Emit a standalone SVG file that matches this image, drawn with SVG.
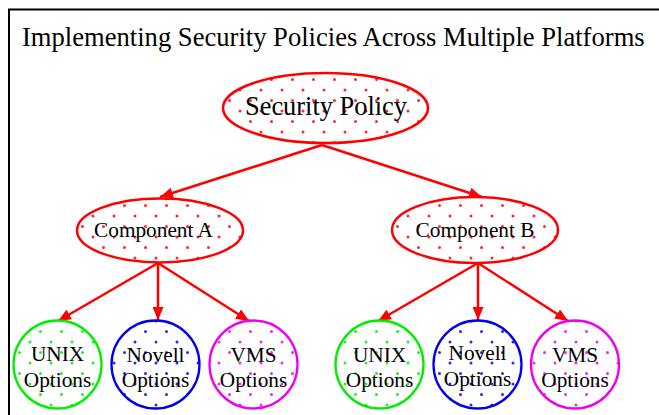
<svg xmlns="http://www.w3.org/2000/svg" width="659" height="415" viewBox="0 0 659 415" font-family="Liberation Serif, Times New Roman, serif">
<style>
text{font-family:'Liberation Serif','Times New Roman',serif;fill:#000;text-anchor:middle}
.title{font-size:26.6px;text-anchor:start}
.big{font-size:26.4px}
.lbl{font-size:21.3px}
.edge{stroke:#ff0000;stroke-width:2.5;fill:none;marker-end:url(#ah)}
.red{stroke:#ff0000;stroke-width:2.5;fill:url(#pr)}
.green{stroke:#00ee00;stroke-width:2.3;fill:url(#pg)}
.blue{stroke:#0000ee;stroke-width:2.3;fill:url(#pb)}
.mag{stroke:#ee00ee;stroke-width:2.3;fill:url(#pm)}
</style>
<defs>
<marker id="ah" markerUnits="userSpaceOnUse" markerWidth="13" markerHeight="11" refX="13" refY="5.5" orient="auto">
<path d="M0,0 L13,5.5 L0,11 z" fill="#ff0000"/>
</marker>
<pattern id="pr" patternUnits="userSpaceOnUse" width="21" height="21" x="6" y="3">
<rect width="21" height="21" fill="#fff"/>
<circle cx="3" cy="3" r="1.5" fill="#ff2a2a"/><circle cx="13.5" cy="13.5" r="1.5" fill="#ff2a2a"/>
</pattern>
<pattern id="pg" patternUnits="userSpaceOnUse" width="21" height="21" x="6" y="3">
<rect width="21" height="21" fill="#fff"/>
<circle cx="3" cy="3" r="1.5" fill="#2aee2a"/><circle cx="13.5" cy="13.5" r="1.5" fill="#2aee2a"/>
</pattern>
<pattern id="pb" patternUnits="userSpaceOnUse" width="21" height="21" x="6" y="3">
<rect width="21" height="21" fill="#fff"/>
<circle cx="3" cy="3" r="1.5" fill="#2a2aee"/><circle cx="13.5" cy="13.5" r="1.5" fill="#2a2aee"/>
</pattern>
<pattern id="pm" patternUnits="userSpaceOnUse" width="21" height="21" x="6" y="3">
<rect width="21" height="21" fill="#fff"/>
<circle cx="3" cy="3" r="1.5" fill="#ee2aee"/><circle cx="13.5" cy="13.5" r="1.5" fill="#ee2aee"/>
</pattern>
</defs>
<rect width="659" height="415" fill="#fff"/>
<rect x="9" y="9.5" width="700" height="500" fill="none" stroke="#000" stroke-width="2"/>
<text class="title" x="22" y="46">Implementing Security Policies Across Multiple Platforms</text>

<g id="connectors">
<path class="edge" d="M322,145 L160,197"/>
<path class="edge" d="M322,145 L482,197"/>
<path class="edge" d="M158,263 L58,321"/>
<path class="edge" d="M158,263 L158,320"/>
<path class="edge" d="M158,263 L249,321"/>
<path class="edge" d="M478,263 L378,321"/>
<path class="edge" d="M478,263 L478,320"/>
<path class="edge" d="M478,263 L568,321"/>
</g>

<g id="security-policy">
<ellipse class="red" cx="325.5" cy="108" rx="102.5" ry="35"/>
<text class="big" x="326" y="115">Security Policy</text>
</g>
<g id="component-a">
<ellipse class="red" cx="160" cy="230.5" rx="83" ry="32"/>
<text class="lbl" x="153.5" y="237">Component A</text>
</g>
<g id="component-b">
<ellipse class="red" cx="475" cy="230" rx="83" ry="33"/>
<text class="lbl" x="475" y="237">Component B</text>
</g>
<g id="unix-a">
<circle class="green" cx="57.5" cy="364.5" r="44"/>
<text class="lbl" x="57.5" y="361">UNIX</text>
<text class="lbl" x="57.5" y="387">Options</text>
</g>
<g id="novell-a">
<circle class="blue" cx="155.5" cy="364.5" r="44"/>
<text class="lbl" x="155.5" y="362">Novell</text>
<text class="lbl" x="155.5" y="387">Options</text>
</g>
<g id="vms-a">
<circle class="mag" cx="253.5" cy="364.5" r="44"/>
<text class="lbl" x="253.5" y="362">VMS</text>
<text class="lbl" x="253.5" y="387">Options</text>
</g>
<g id="unix-b">
<circle class="green" cx="379.5" cy="364.5" r="44"/>
<text class="lbl" x="379.5" y="362">UNIX</text>
<text class="lbl" x="379.5" y="387">Options</text>
</g>
<g id="novell-b">
<circle class="blue" cx="477.5" cy="364.5" r="44"/>
<text class="lbl" x="477.5" y="360">Novell</text>
<text class="lbl" x="477.5" y="386">Options</text>
</g>
<g id="vms-b">
<circle class="mag" cx="575" cy="364.5" r="44"/>
<text class="lbl" x="575" y="362">VMS</text>
<text class="lbl" x="575" y="387">Options</text>
</g>
</svg>
